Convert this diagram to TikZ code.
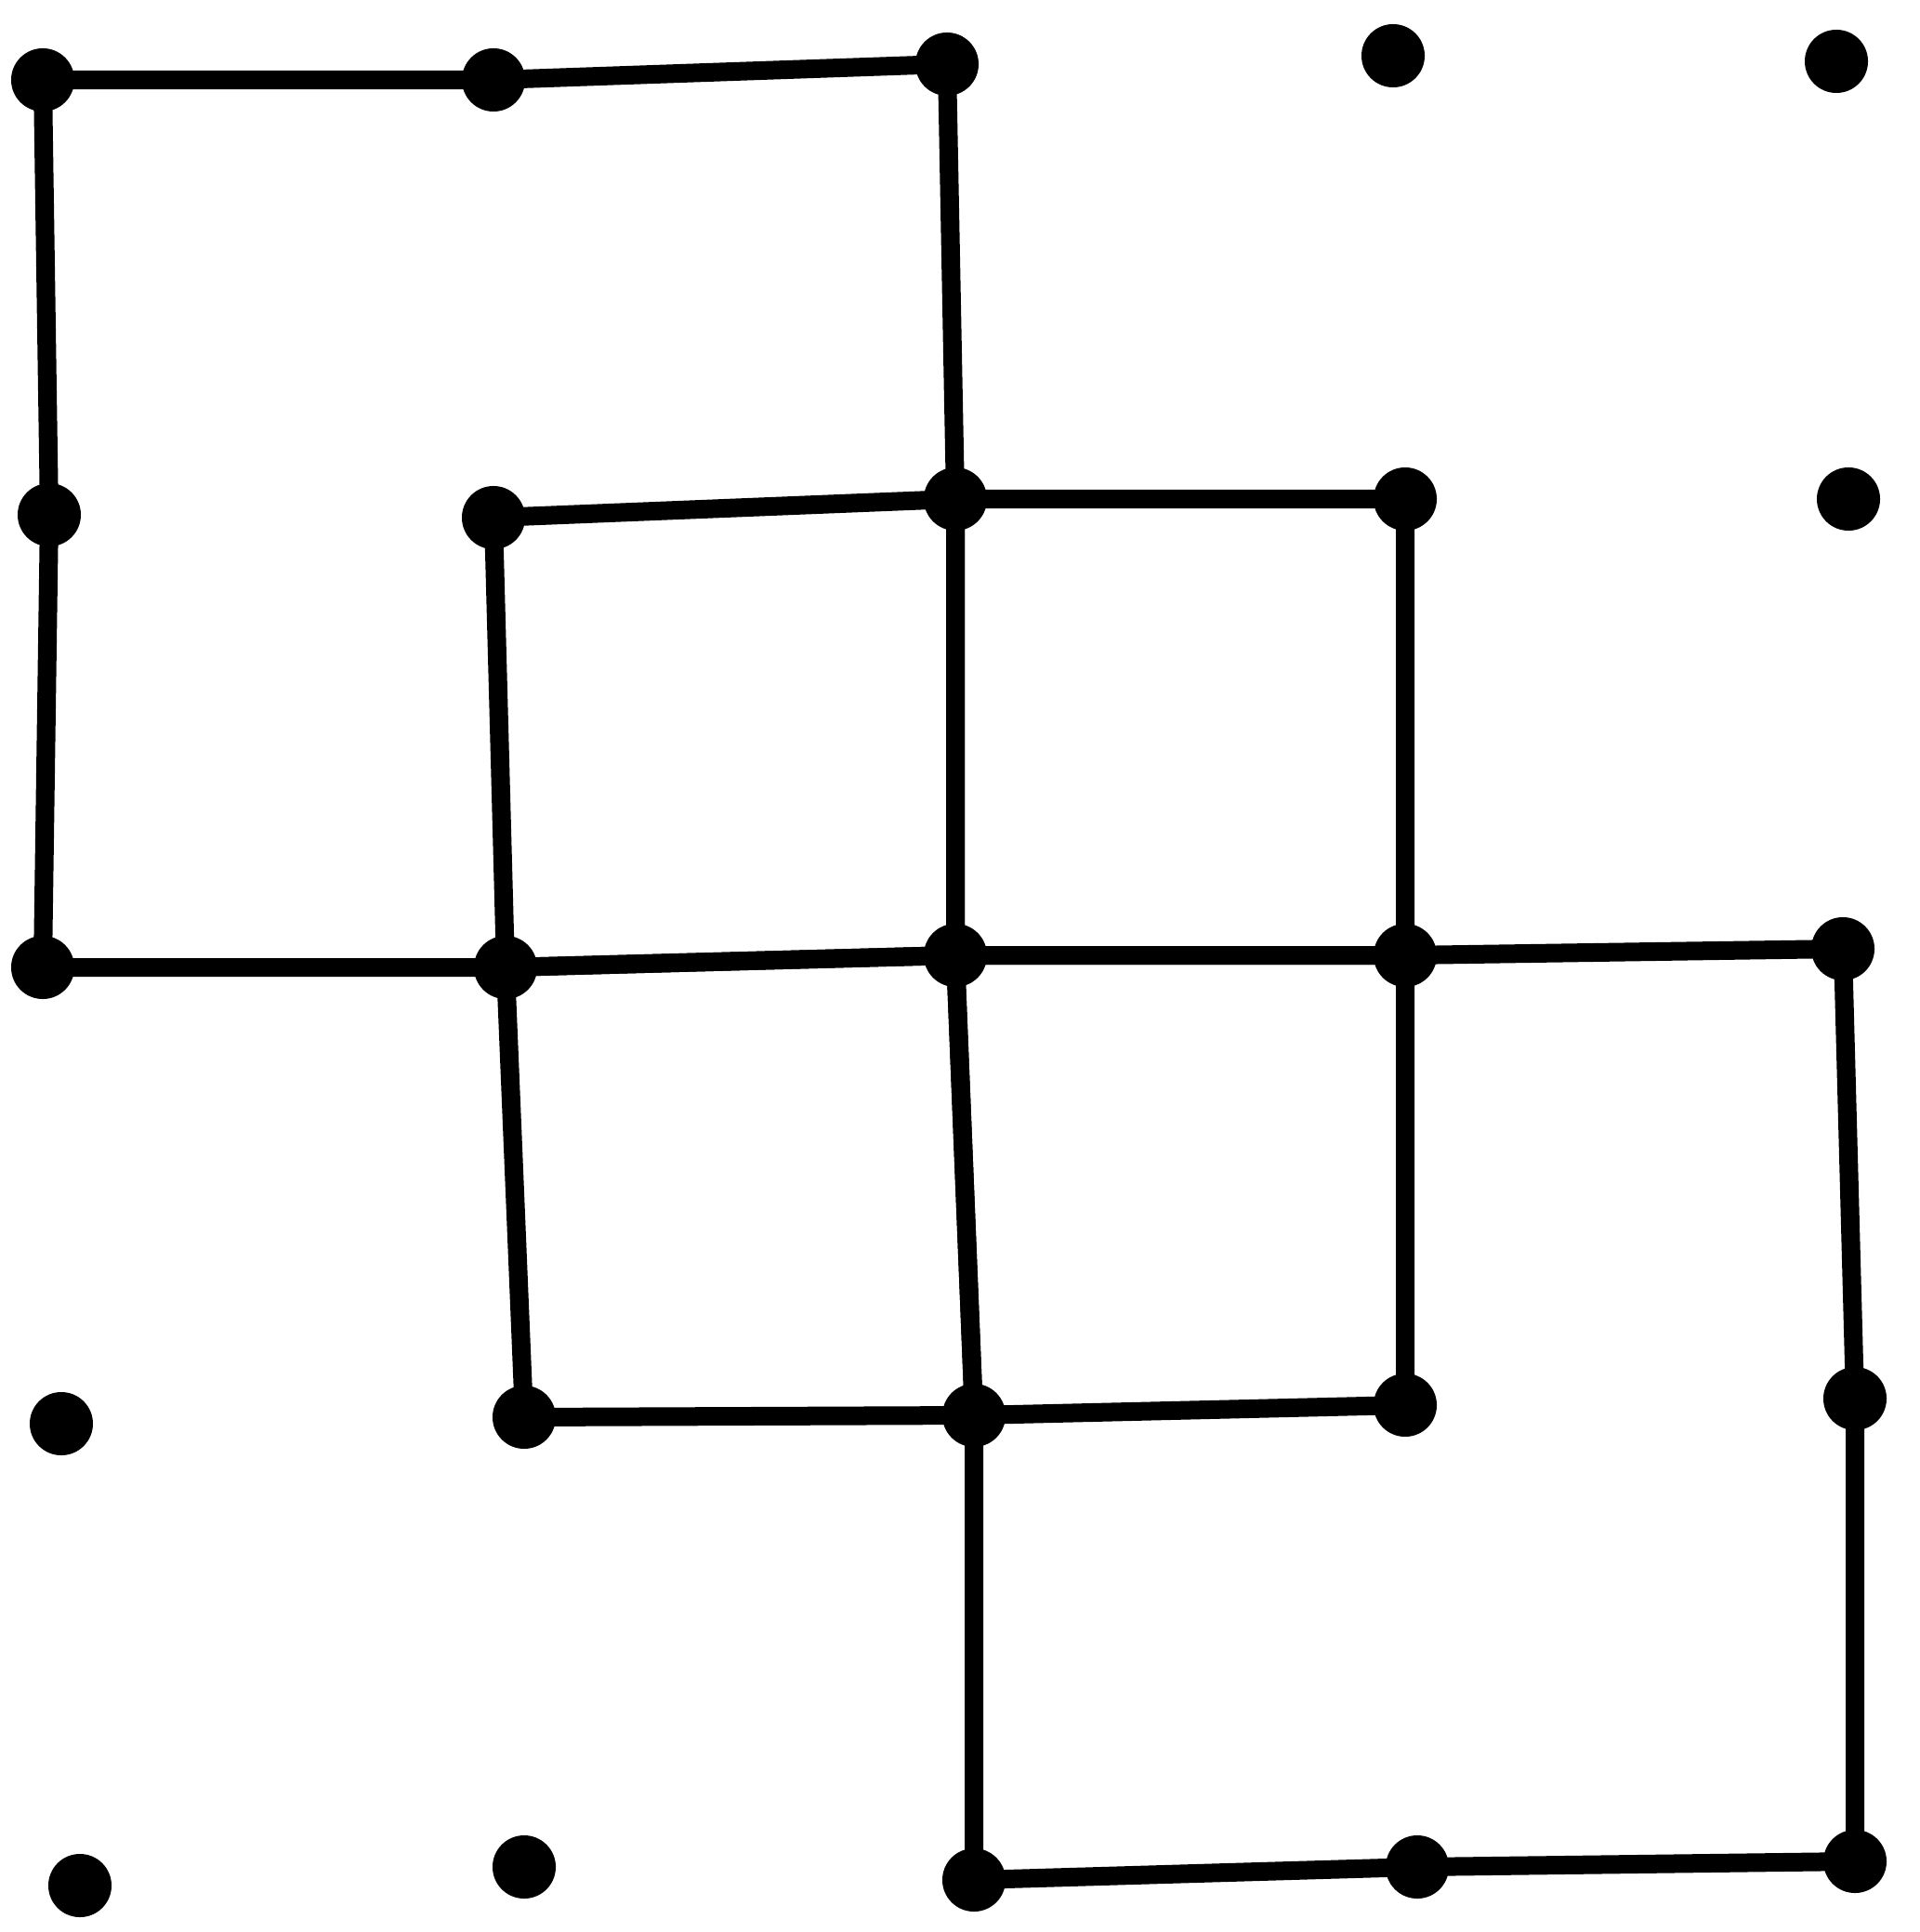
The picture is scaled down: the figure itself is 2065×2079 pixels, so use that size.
\documentclass[tikz,border=0pt]{standalone}
\begin{document}
\begin{tikzpicture}[x=0.01cm,y=-0.01cm,
  dotn/.style={circle,fill=black,inner sep=0pt,minimum size=0.68cm},
  edge/.style={line width=0.2cm,black,line cap=round,line join=round}]
\useasboundingbox (0,0) rectangle (2065,2079);
\fill[white] (0,0) rectangle (2065,2079);
% row 0
\coordinate (p00) at (46,86);   \coordinate (p10) at (531,86);  \coordinate (p20) at (1019,69);
\coordinate (p30) at (1499,60); \coordinate (p40) at (1976,66);
% row 1
\coordinate (p01) at (53,554);  \coordinate (p11) at (531,557); \coordinate (p21) at (1028,537);
\coordinate (p31) at (1512,537);\coordinate (p41) at (1989,537);
% row 2
\coordinate (p02) at (46,1041); \coordinate (p12) at (544,1041);\coordinate (p22) at (1028,1028);
\coordinate (p32) at (1512,1028);\coordinate (p42) at (1983,1021);
% row 3
\coordinate (p03) at (66,1532); \coordinate (p13) at (564,1525);\coordinate (p23) at (1048,1523);
\coordinate (p33) at (1512,1512);\coordinate (p43) at (1996,1505);
% row 4
\coordinate (p04) at (86,2029); \coordinate (p14) at (564,2009);\coordinate (p24) at (1048,2023);
\coordinate (p34) at (1525,2009);\coordinate (p44) at (1996,2003);
% top-left big square
\draw[edge] (p00) -- (p10) -- (p20) -- (p21) -- (p22) -- (p12) -- (p02) -- (p01) -- cycle;
% middle 2x2
\draw[edge] (p11) -- (p21) -- (p31) -- (p32) -- (p33) -- (p23) -- (p13) -- (p12) -- cycle;
\draw[edge] (p21) -- (p22) -- (p23);
\draw[edge] (p12) -- (p22) -- (p32);
% bottom-right big square
\draw[edge] (p22) -- (p32) -- (p42) -- (p43) -- (p44) -- (p34) -- (p24) -- (p23) -- cycle;
% dots
\foreach \i in {0,...,4}{\foreach \j in {0,...,4}{\node[dotn] (d\i\j) at (p\i\j) {};}}
\end{tikzpicture}
\end{document}
